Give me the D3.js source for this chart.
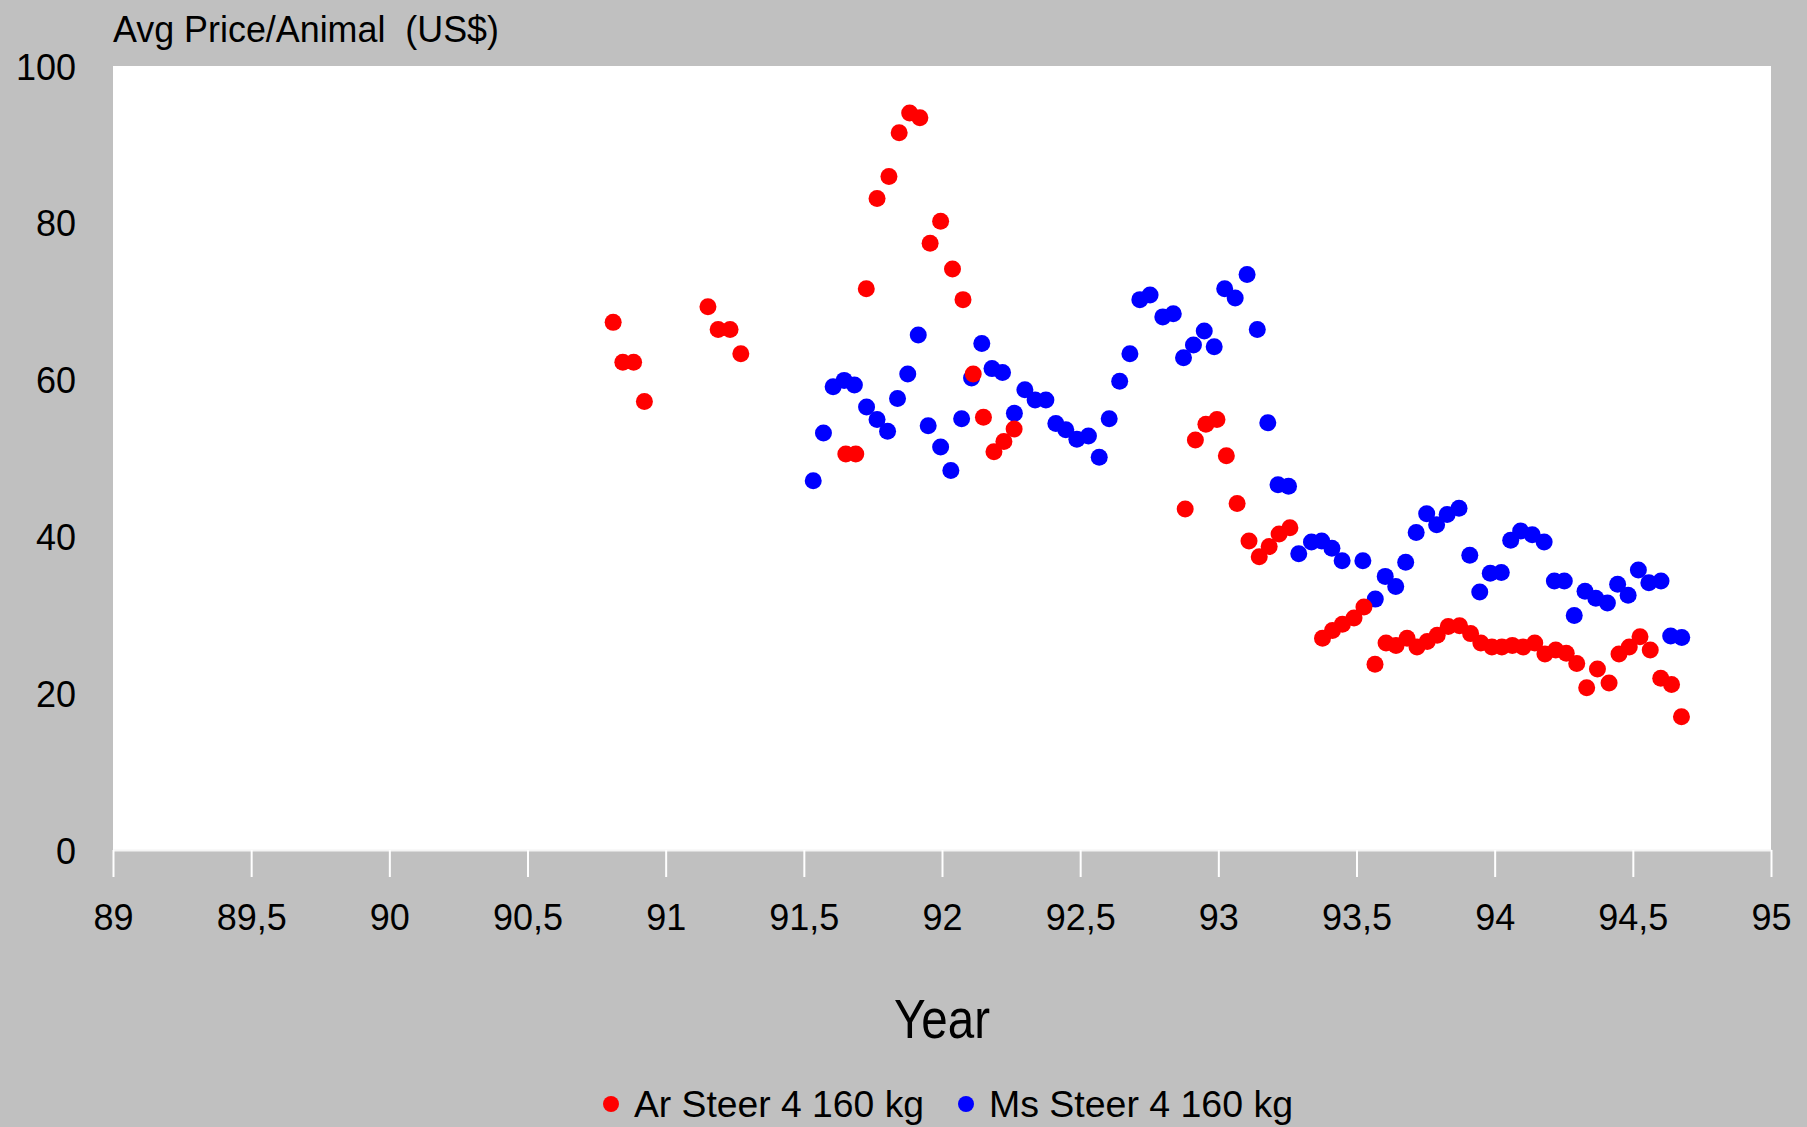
<!DOCTYPE html>
<html>
<head>
<meta charset="utf-8">
<script src="https://cdn.jsdelivr.net/npm/d3@7"></script>
<style>
  html, body { margin: 0; padding: 0; background: #c0c0c0; }
  svg { display: block; }
  text { font-family: "Liberation Sans", Arial, Helvetica, sans-serif; fill: #000; }
</style>
</head>
<body>
<svg id="chart" width="1807" height="1127"></svg>
<script>
// ---- data ----
const seriesNames = ["Ar Steer 4 160 kg", "Ms Steer 4 160 kg"];
const seriesColors = ["#ff0000", "#0000ff"];

const arYears = [90.81, 90.845, 90.884, 90.923, 91.153, 91.19, 91.233, 91.272, 91.652, 91.688,
  91.726, 91.765, 91.808, 91.845, 91.883, 91.92, 91.957, 91.995, 92.038, 92.076,
  92.113, 92.15, 92.188, 92.224, 92.261, 92.88, 92.917, 92.955, 92.995, 93.029,
  93.068, 93.111, 93.148, 93.184, 93.22, 93.259, 93.377, 93.413, 93.449, 93.491,
  93.527, 93.567, 93.607, 93.643, 93.683, 93.719, 93.756, 93.792, 93.832, 93.873,
  93.913, 93.95, 93.99, 94.026, 94.064, 94.103, 94.145, 94.182, 94.221, 94.259,
  94.297, 94.333, 94.372, 94.414, 94.45, 94.487, 94.526, 94.563, 94.601, 94.64, 94.676];
const arPrices = [67.3, 62.2, 62.2, 57.2, 69.3, 66.4, 66.4, 63.3, 50.5, 50.5,
  71.6, 83.1, 85.9, 91.5, 94.0, 93.4, 77.4, 80.2, 74.1, 70.2,
  60.7, 55.2, 50.8, 52.1, 53.7, 43.5, 52.3, 54.3, 54.9, 50.3,
  44.2, 39.4, 37.4, 38.7, 40.3, 41.1, 27.0, 28.0, 28.8, 29.6,
  31.0, 23.7, 26.4, 26.1, 27.0, 25.9, 26.6, 27.4, 28.5, 28.6,
  27.6, 26.4, 25.9, 25.9, 26.1, 25.9, 26.4, 25.0, 25.5, 25.1,
  23.8, 20.7, 23.1, 21.3, 25.0, 25.9, 27.2, 25.5, 21.9, 21.1, 17.0];

const msYears = [91.534, 91.571, 91.606, 91.646, 91.683, 91.727, 91.765, 91.803, 91.839, 91.876,
  91.914, 91.95, 91.995, 92.032, 92.071, 92.107, 92.144, 92.181, 92.219, 92.262,
  92.3, 92.337, 92.376, 92.412, 92.448, 92.488, 92.53, 92.569, 92.605, 92.643,
  92.68, 92.716, 92.753, 92.799, 92.837, 92.874, 92.91, 92.949, 92.985, 93.023,
  93.061, 93.104, 93.141, 93.179, 93.216, 93.254, 93.291, 93.337, 93.374, 93.411,
  93.448, 93.523, 93.568, 93.604, 93.642, 93.678, 93.716, 93.754, 93.79, 93.828,
  93.871, 93.91, 93.946, 93.984, 94.024, 94.058, 94.094, 94.136, 94.179, 94.216,
  94.252, 94.288, 94.327, 94.366, 94.408, 94.445, 94.483, 94.52, 94.558, 94.602,
  94.637, 94.677];
const msPrices = [47.1, 53.2, 59.1, 59.9, 59.3, 56.5, 54.9, 53.4, 57.6, 60.7,
  65.7, 54.1, 51.4, 48.4, 55.0, 60.2, 64.6, 61.4, 60.9, 55.7,
  58.7, 57.4, 57.4, 54.4, 53.6, 52.4, 52.8, 50.1, 55.0, 59.8,
  63.3, 70.2, 70.8, 68.0, 68.4, 62.8, 64.4, 66.2, 64.2, 71.6,
  70.4, 73.4, 66.4, 54.5, 46.6, 46.4, 37.8, 39.3, 39.4, 38.5,
  36.9, 36.9, 32.0, 34.9, 33.6, 36.7, 40.5, 42.9, 41.5, 42.8,
  43.6, 37.6, 32.9, 35.3, 35.4, 39.5, 40.7, 40.2, 39.3, 34.3,
  34.3, 29.9, 33.0, 32.1, 31.5, 33.9, 32.5, 35.7, 34.1, 34.3,
  27.3, 27.1];

const xTicks = [89, 89.5, 90, 90.5, 91, 91.5, 92, 92.5, 93, 93.5, 94, 94.5, 95];
const yTicks = [0, 20, 40, 60, 80, 100];
const yTitle = "Avg Price/Animal  (US$)";
const xTitle = "Year";

// ---- layout ----
const svg = d3.select("#chart");
const plot = { left: 113, right: 1771, top: 66, bottom: 850 };

const x = d3.scaleLinear().domain([89, 95]).range([plot.left, plot.right]);
const y = d3.scaleLinear().domain([0, 100]).range([plot.bottom, plot.top]);

svg.append("rect").attr("x", 0).attr("y", 0).attr("width", 1807).attr("height", 1127).attr("fill", "#c0c0c0");
svg.append("rect")
  .attr("x", plot.left).attr("y", plot.top)
  .attr("width", plot.right - plot.left).attr("height", plot.bottom - plot.top)
  .attr("fill", "#ffffff");

// x axis
const fmt = d => String(d).replace(".", ",");
const xAxis = svg.append("g")
  .attr("transform", `translate(0,${plot.bottom})`)
  .call(d3.axisBottom(x).tickValues(xTicks).tickFormat(fmt).tickSize(27).tickPadding(0).tickSizeOuter(0));
xAxis.select(".domain").attr("stroke", "#f4f4f4").attr("stroke-width", 2);
xAxis.selectAll(".tick line").attr("stroke", "#ffffff").attr("stroke-width", 2);
xAxis.selectAll(".tick text")
  .attr("y", 80).attr("dy", 0)
  .style("font-size", "36px").style("font-family", "'Liberation Sans', Arial, sans-serif")
  .attr("fill", "#000");

// y axis
const yAxis = svg.append("g")
  .attr("transform", `translate(${plot.left},0)`)
  .call(d3.axisLeft(y).tickValues(yTicks).tickSize(0).tickPadding(37));
yAxis.select(".domain").remove();
yAxis.selectAll(".tick text")
  .attr("dy", "13px")
  .style("font-size", "36px").style("font-family", "'Liberation Sans', Arial, sans-serif")
  .attr("fill", "#000");

// titles
svg.append("text").attr("x", 113).attr("y", 42)
  .style("font-size", "36px").style("white-space", "pre")
  .attr("textLength", 386).attr("lengthAdjust", "spacingAndGlyphs")
  .text(yTitle);
svg.append("text").attr("x", (plot.left + plot.right) / 2).attr("y", 1038)
  .attr("text-anchor", "middle")
  .style("font-size", "55px")
  .attr("textLength", 96).attr("lengthAdjust", "spacingAndGlyphs")
  .text(xTitle);

// points
const series = [
  { name: seriesNames[1], color: seriesColors[1], data: msYears.map((d, i) => ({ x: d, y: msPrices[i] })) },
  { name: seriesNames[0], color: seriesColors[0], data: arYears.map((d, i) => ({ x: d, y: arPrices[i] })) }
];
series.forEach(s => {
  svg.append("g").selectAll("circle").data(s.data).join("circle")
    .attr("cx", d => x(d.x)).attr("cy", d => y(d.y))
    .attr("r", 8.5).attr("fill", s.color);
});

// legend
const legendItems = [
  { name: seriesNames[0], color: seriesColors[0], cx: 611, tx: 634 },
  { name: seriesNames[1], color: seriesColors[1], cx: 966, tx: 989 }
];
const lg = svg.append("g");
legendItems.forEach(it => {
  lg.append("circle").attr("cx", it.cx).attr("cy", 1104).attr("r", 8).attr("fill", it.color);
  lg.append("text").attr("x", it.tx).attr("y", 1117)
    .style("font-size", "36px")
    .attr("textLength", it === legendItems[0] ? 290 : 304).attr("lengthAdjust", "spacingAndGlyphs")
    .text(it.name);
});
</script>
</body>
</html>
